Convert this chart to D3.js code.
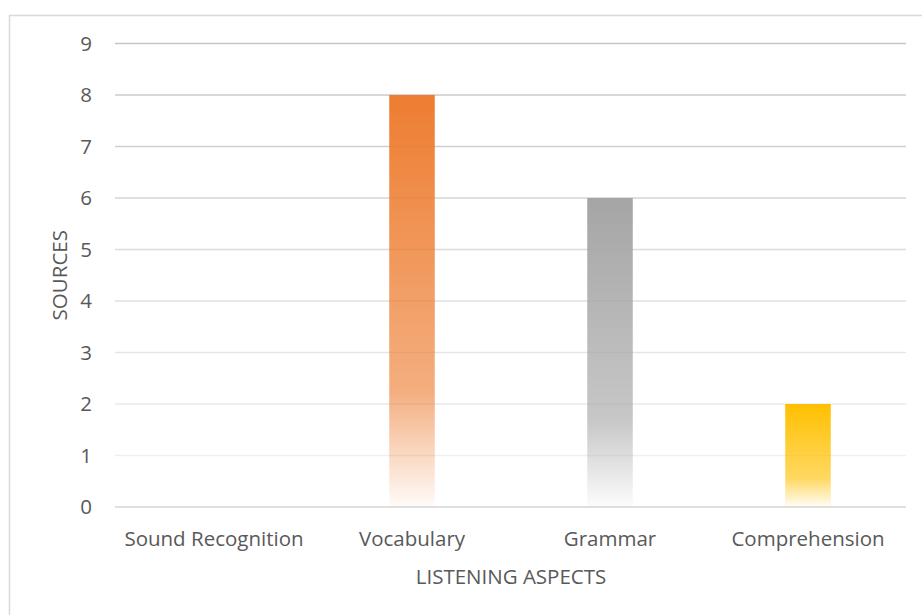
<!DOCTYPE html>
<meta charset="utf-8">
<head>
    <title></title>
    <script src="https://cdn.jsdelivr.net/npm/d3@7/dist/d3.min.js"></script>
</head>
<style>
    body{ margin:0; background:#fff; }
    text{
      font-family: "Open Sans", sans-serif;
      fill:#595959;
      font-size:20.5px;
    }
</style>
<svg width="922" height="615"></svg>
<script>
    var categories = ['Sound Recognition', 'Vocabulary', 'Grammar', 'Comprehension'],
        values = [0, 8, 6, 2],
        barColors = ['#4472C4', '#ED7D31', '#A5A5A5', '#FFC000'],
        yTicks = [0, 1, 2, 3, 4, 5, 6, 7, 8, 9];

    var svg = d3.select('svg'),
        plotLeft = 115, plotRight = 907, plotTop = 43.5, plotBottom = 507;

    // chart frame
    svg.append('rect')
        .attr('x', 9.5).attr('y', 15.5)
        .attr('width', 930).attr('height', 620)
        .style('fill', 'none').style('stroke', '#d9d9d9').style('stroke-width', 1.5);

    var x = d3.scaleBand().domain(categories).range([plotLeft, plotRight]).paddingInner(0.77).paddingOuter(0.385),
        y = d3.scaleLinear().domain([0, 9]).range([plotBottom, plotTop]);

    // gradients, one per bar colour
    var defs = svg.append('defs');
    barColors.forEach(function(c, i){
        var g = defs.append('linearGradient').attr('id', 'grad' + i)
            .attr('x1', 0).attr('y1', 0).attr('x2', 0).attr('y2', 1);
        g.append('stop').attr('offset', '0%').attr('stop-color', c).attr('stop-opacity', 1);
        g.append('stop').attr('offset', '72%').attr('stop-color', c).attr('stop-opacity', 0.62);
        g.append('stop').attr('offset', '100%').attr('stop-color', c).attr('stop-opacity', 0.03);
    });

    var gridColor = d3.scaleLinear().domain([0, 1, 9]).range(['#d4d4d4', '#efefef', '#c6c6c6']);

    svg.append('g').selectAll('line').data(yTicks).enter().append('line')
        .attr('x1', plotLeft).attr('x2', plotRight - 1)
        .attr('y1', function(d){ return y(d); })
        .attr('y2', function(d){ return y(d); })
        .style('stroke', function(d){ return gridColor(d); })
        .style('stroke-width', 1.5);

    svg.append('g').selectAll('text').data(yTicks).enter().append('text')
        .attr('x', 92).attr('y', function(d){ return y(d); })
        .attr('dy', '0.35em')
        .attr('text-anchor', 'end')
        .text(function(d){ return d; });

    svg.append('g').selectAll('rect').data(values).enter().append('rect')
        .attr('x', function(d, i){ return x(categories[i]); })
        .attr('y', function(d){ return y(d); })
        .attr('width', x.bandwidth())
        .attr('height', function(d){ return plotBottom - y(d); })
        .style('fill', function(d, i){ return 'url(#grad' + i + ')'; });

    svg.append('g').selectAll('text').data(categories).enter().append('text')
        .attr('x', function(d){ return x(d) + x.bandwidth() / 2; })
        .attr('y', 546)
        .attr('text-anchor', 'middle')
        .text(function(d){ return d; });

    svg.append('text')
        .attr('x', (plotLeft + plotRight) / 2).attr('y', 584)
        .attr('text-anchor', 'middle')
        .text('LISTENING ASPECTS');

    svg.append('text')
        .attr('transform', 'translate(67,' + ((plotTop + plotBottom) / 2) + ') rotate(-90)')
        .attr('text-anchor', 'middle')
        .text('SOURCES');
</script>
